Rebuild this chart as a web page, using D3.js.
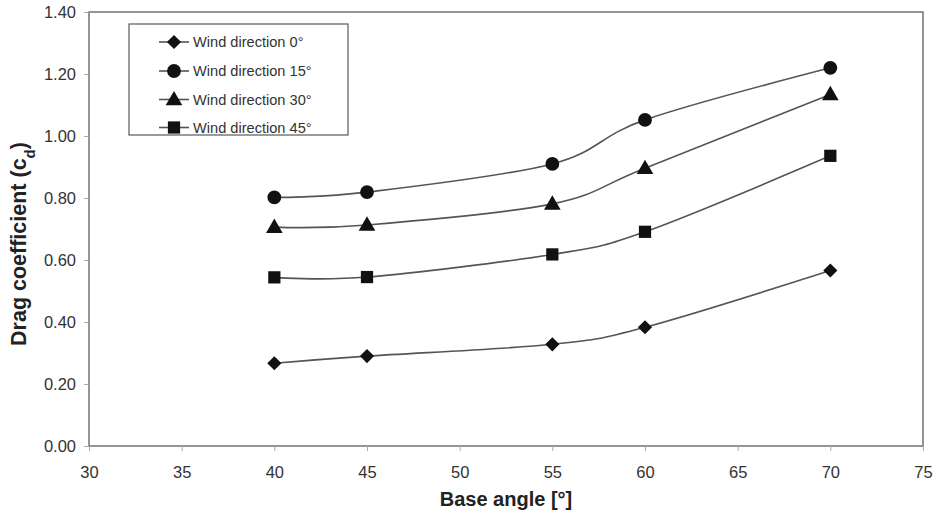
<!DOCTYPE html>
<html>
<head>
<meta charset="utf-8">
<script src="https://cdn.jsdelivr.net/npm/d3@7"></script>
<style>
  body { margin: 0; background: #fff; }
  svg { display: block; font-family: "Liberation Sans", Arial, sans-serif; }
</style>
</head>
<body>
<svg id="chart" width="935" height="513"></svg>
<script>
// Base angles (degrees) measured for the model
const baseAngles = [40, 45, 55, 60, 70];

// Drag coefficient per wind direction
const cdWind0  = [0.267, 0.290, 0.328, 0.383, 0.566];
const cdWind15 = [0.802, 0.819, 0.910, 1.052, 1.220];
const cdWind30 = [0.706, 0.713, 0.781, 0.896, 1.134];
const cdWind45 = [0.544, 0.545, 0.618, 0.691, 0.936];

const seriesNames = ["Wind direction 0°", "Wind direction 15°", "Wind direction 30°", "Wind direction 45°"];
const seriesSymbols = ["diamond", "circle", "triangle", "square"];

const xTicks = [30, 35, 40, 45, 50, 55, 60, 65, 70, 75];
const yTicks = [0, 0.2, 0.4, 0.6, 0.8, 1.0, 1.2, 1.4];

const series = [cdWind0, cdWind15, cdWind30, cdWind45].map((vals, i) => ({
  name: seriesNames[i],
  symbol: seriesSymbols[i],
  points: vals.map((v, j) => ({ x: baseAngles[j], y: v }))
}));

const svg = d3.select("#chart");

const x = d3.scaleLinear().domain([30, 75]).range([89, 923]);
const y = d3.scaleLinear().domain([0, 1.4]).range([446, 12]);

const axisColor = "#7a7a7a";
const textColor = "#333";
const fontFamily = "'Liberation Sans', Arial, sans-serif";

// Plot frame
svg.append("rect")
  .attr("x", x(30)).attr("y", y(1.4))
  .attr("width", x(75) - x(30)).attr("height", y(0) - y(1.4))
  .attr("fill", "none").attr("stroke", axisColor).attr("stroke-width", 1.6);

// Y axis
const yAxis = svg.append("g")
  .attr("transform", `translate(${x(30)},0)`)
  .call(d3.axisLeft(y).tickValues(yTicks).tickFormat(d3.format(".2f")).tickSize(5).tickPadding(8));
yAxis.select(".domain").remove();
yAxis.selectAll(".tick line").attr("stroke", "#aaa");
yAxis.selectAll(".tick text").attr("fill", textColor).style("font-size", "16.5px")
  .style("font-family", fontFamily);

// X axis
const xAxis = svg.append("g")
  .attr("transform", `translate(0,${y(0)})`)
  .call(d3.axisBottom(x).tickValues(xTicks).tickFormat(d3.format("d")).tickSize(5).tickPadding(15));
xAxis.select(".domain").remove();
xAxis.selectAll(".tick line").attr("stroke", "#aaa");
xAxis.selectAll(".tick text").attr("fill", textColor).style("font-size", "16.5px")
  .style("font-family", fontFamily);

// Axis titles
svg.append("text")
  .attr("x", (x(30) + x(75)) / 2).attr("y", 506)
  .attr("text-anchor", "middle")
  .attr("fill", "#222").style("font-size", "20px").style("font-weight", "bold")
  .text("Base angle [°]");

const yTitle = svg.append("text")
  .attr("transform", `translate(26,${244}) rotate(-90)`)
  .attr("text-anchor", "middle")
  .attr("fill", "#222").style("font-size", "21.5px").style("font-weight", "bold");
yTitle.append("tspan").text("Drag coefficient (c");
yTitle.append("tspan").attr("baseline-shift", "sub").style("font-size", "15px").text("d");
yTitle.append("tspan").text(")");

// Marker shapes (diamond is a square turned 45°)
const diamondSymbol = {
  draw(context, size) {
    const r = Math.sqrt(size / 2);
    context.moveTo(0, -r);
    context.lineTo(r, 0);
    context.lineTo(0, r);
    context.lineTo(-r, 0);
    context.closePath();
  }
};
const symbolTypes = {
  diamond: diamondSymbol,
  circle: d3.symbolCircle,
  triangle: d3.symbolTriangle,
  square: d3.symbolSquare
};
const symbolSizes = { diamond: 100, circle: 150, triangle: 120, square: 150 };
function symbolPath(name) {
  return d3.symbol().type(symbolTypes[name]).size(symbolSizes[name])();
}

// Smoothed lines
const line = d3.line()
  .x(d => x(d.x)).y(d => y(d.y))
  .curve(d3.curveCardinal.tension(0));

const lineColor = "#555";

const g = svg.append("g");
series.forEach(s => {
  g.append("path")
    .attr("d", line(s.points))
    .attr("fill", "none").attr("stroke", lineColor).attr("stroke-width", 1.6);
  g.selectAll(null).data(s.points).enter().append("path")
    .attr("d", symbolPath(s.symbol))
    .attr("transform", d => `translate(${x(d.x)},${y(d.y) + (s.symbol === "triangle" ? 1 : 0)})`)
    .attr("fill", "#111");
});

// Legend
const legend = svg.append("g");
legend.append("rect")
  .attr("x", 129).attr("y", 24).attr("width", 219).attr("height", 111)
  .attr("fill", "#fff").attr("stroke", "#666").attr("stroke-width", 1.3);
const legendRows = [42, 71, 99.5, 127.5];
series.forEach((s, i) => {
  const ly = legendRows[i];
  legend.append("line")
    .attr("x1", 159).attr("x2", 189).attr("y1", ly).attr("y2", ly)
    .attr("stroke", lineColor).attr("stroke-width", 1.6);
  legend.append("path")
    .attr("d", symbolPath(s.symbol))
    .attr("transform", `translate(174,${ly + (s.symbol === "triangle" ? 1 : 0)})`)
    .attr("fill", "#111");
  legend.append("text")
    .attr("x", 193).attr("y", ly + 5)
    .attr("fill", textColor).style("font-size", "14.6px")
    .text(s.name);
});
</script>
</body>
</html>
